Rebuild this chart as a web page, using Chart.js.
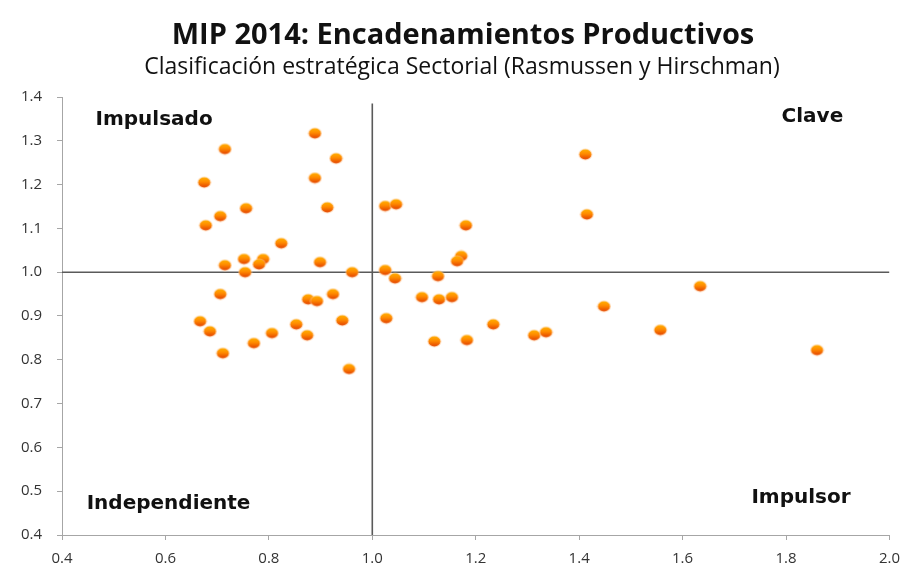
<!DOCTYPE html>
<html>
<head>
<meta charset="utf-8">
<script src="https://cdn.jsdelivr.net/npm/chart.js@4.4.1/dist/chart.umd.min.js"></script>
<style>
  html, body { margin: 0; padding: 0; background: #fff; }
  #wrap { width: 910px; height: 569px; }
</style>
</head>
<body>
<div id="wrap"><canvas id="mip"></canvas></div>
<script>
// backward linkage (x) per sector
const backward = [
  0.675, 0.715, 0.889, 0.930, 0.889, 0.678, 0.706, 0.756, 0.913, 0.824,
  0.715, 0.752, 0.789, 0.781, 0.754, 0.899, 0.961, 0.706, 0.876, 0.893,
  0.924, 0.667, 0.686, 0.853, 0.806, 0.942, 0.771, 0.874, 0.711, 0.955,
  1.025, 1.046, 1.181, 1.172, 1.164, 1.025, 1.044, 1.127, 1.096, 1.129,
  1.154, 1.027, 1.234, 1.120, 1.183,
  1.412, 1.415, 1.634, 1.448, 1.313, 1.336, 1.557, 1.860
];
// forward linkage (y) per sector
const forward = [
  1.205, 1.281, 1.317, 1.260, 1.215, 1.107, 1.128, 1.146, 1.148, 1.066,
  1.016, 1.030, 1.030, 1.018, 1.000, 1.023, 1.000, 0.950, 0.938, 0.934,
  0.950, 0.888, 0.865, 0.881, 0.861, 0.890, 0.838, 0.856, 0.815, 0.779,
  1.151, 1.155, 1.107, 1.037, 1.025, 1.005, 0.986, 0.991, 0.943, 0.938,
  0.943, 0.895, 0.881, 0.842, 0.845,
  1.269, 1.132, 0.968, 0.922, 0.856, 0.863, 0.868, 0.822
];
const xTicks = [0.4, 0.6, 0.8, 1.0, 1.2, 1.4, 1.6, 1.8, 2.0];
const yTicks = [0.4, 0.5, 0.6, 0.7, 0.8, 0.9, 1.0, 1.1, 1.2, 1.3, 1.4];
const hLine = [{ x: 0.4, y: 1.0 }, { x: 2.0, y: 1.0 }];
const vLine = [{ x: 1.0, y: 0.4 }, { x: 1.0, y: 1.385 }];
const quadrants = [
  { text: 'Impulsado', x: 0.578, y: 1.349 },
  { text: 'Clave', x: 1.851, y: 1.354 },
  { text: 'Independiente', x: 0.606, y: 0.472 },
  { text: 'Impulsor', x: 1.829, y: 0.486 }
];
const titleText = 'MIP 2014: Encadenamientos Productivos';
const subtitleText = 'Clasificación estratégica Sectorial (Rasmussen y Hirschman)';

// orange ball marker
function makeBall() {
  const c = document.createElement('canvas');
  c.width = 15; c.height = 13;
  const g = c.getContext('2d');
  g.beginPath();
  g.ellipse(7.5, 6.5, 7, 6, 0, 0, Math.PI * 2);
  g.fillStyle = 'rgba(255,200,150,0.55)';
  g.fill();
  const grad = g.createLinearGradient(0, 1, 0, 12);
  grad.addColorStop(0, '#ffb300');
  grad.addColorStop(0.45, '#ff8a00');
  grad.addColorStop(1, '#e03c00');
  g.beginPath();
  g.ellipse(7.5, 6.5, 6, 5, 0, 0, Math.PI * 2);
  g.fillStyle = grad;
  g.fill();
  return c;
}

// titles sit a bit right of the canvas centre, so they are drawn here
const headings = {
  id: 'headings',
  afterDraw(chart) {
    const ctx = chart.ctx;
    ctx.save();
    ctx.fillStyle = '#111';
    ctx.textAlign = 'center';
    ctx.textBaseline = 'middle';
    ctx.font = 'bold 29px "Open Sans"';
    ctx.fillText(titleText, 463, 36);
    ctx.font = '23px "Open Sans"';
    ctx.fillText(subtitleText, 462, 67);
    ctx.restore();
  }
};

const quadrantLabels = {
  id: 'quadrantLabels',
  afterDatasetsDraw(chart) {
    const { ctx, scales: { x, y } } = chart;
    ctx.save();
    ctx.font = 'bold 20px "DejaVu Sans"';
    ctx.fillStyle = '#111';
    ctx.textAlign = 'center';
    ctx.textBaseline = 'middle';
    quadrants.forEach(q => ctx.fillText(q.text, x.getPixelForValue(q.x), y.getPixelForValue(q.y)));
    ctx.restore();
  }
};

const axisGray = '#a6a6a6';
const tickFont = { family: 'Open Sans', size: 15 };

new Chart(document.getElementById('mip'), {
  type: 'scatter',
  data: {
    datasets: [
      {
        label: 'Sectores',
        data: backward.map((v, i) => ({ x: v, y: forward[i] })),
        pointStyle: makeBall(),
        pointRadius: 6,
        order: 0
      },
      {
        type: 'line',
        data: hLine,
        borderColor: '#5a5a5a',
        borderWidth: 1.6,
        pointRadius: 0,
        order: 1
      },
      {
        type: 'line',
        data: vLine,
        borderColor: '#5a5a5a',
        borderWidth: 1.6,
        pointRadius: 0,
        order: 1
      }
    ]
  },
  options: {
    responsive: true,
    maintainAspectRatio: false,
    animation: false,
    layout: { padding: { left: 0, right: 20, top: 97, bottom: 0 } },
    plugins: {
      legend: { display: false },
      tooltip: { enabled: false },
      title: { display: false }
    },
    scales: {
      x: {
        type: 'linear',
        min: 0.4,
        max: 2.0,
        afterBuildTicks: s => { s.ticks = xTicks.map(v => ({ value: v })); },
        afterFit: s => { s.height = 34; },
        ticks: { callback: v => v.toFixed(1), color: '#333', font: tickFont, padding: 10, maxRotation: 0 },
        grid: { drawOnChartArea: false, color: axisGray, tickLength: 5 },
        border: { color: axisGray, width: 1 }
      },
      y: {
        type: 'linear',
        min: 0.4,
        max: 1.4,
        afterBuildTicks: s => { s.ticks = yTicks.map(v => ({ value: v })); },
        afterFit: s => { s.width = 62; },
        ticks: { callback: v => v.toFixed(1), color: '#333', font: tickFont, padding: 15 },
        grid: { drawOnChartArea: false, color: axisGray, tickLength: 5 },
        border: { color: axisGray, width: 1 }
      }
    }
  },
  plugins: [quadrantLabels, headings]
});
</script>
</body>
</html>
